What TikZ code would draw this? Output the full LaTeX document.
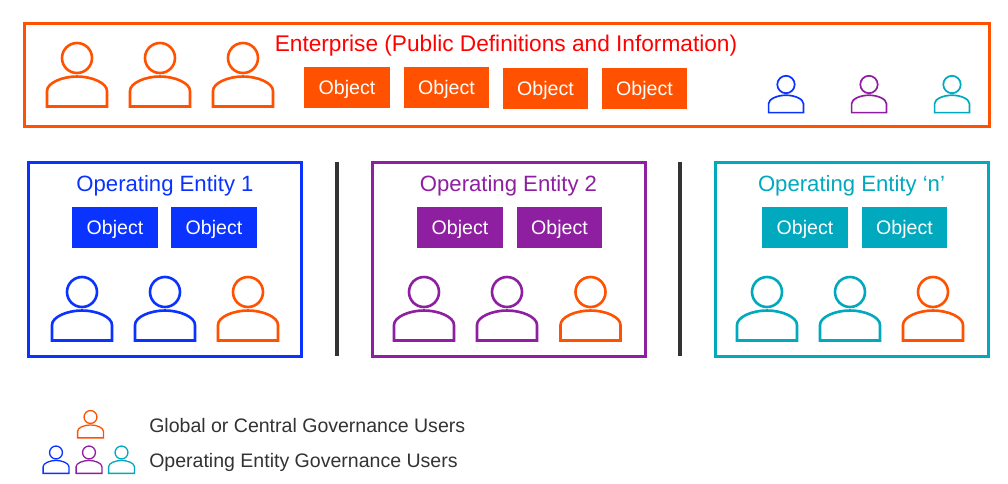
\documentclass[tikz,border=0pt]{standalone}
\usepackage{fontspec}
\setmainfont{Liberation Sans}
\definecolor{org}{HTML}{FF5100}
\definecolor{blu}{HTML}{0A33FF}
\definecolor{pur}{HTML}{8E1FA0}
\definecolor{tea}{HTML}{00A9BD}
\definecolor{dar}{HTML}{333333}
\newcommand{\px}{0.75pt}
\tikzset{
  frame/.style={draw=#1,line width=3*\px,fill=white},
  obj/.style={fill=#1,text=white,minimum width=85.5*\px,minimum height=41*\px,inner sep=0pt,text height=10pt,text depth=0pt,font=\fontsize{14.7pt}{16pt}\selectfont},
  title/.style={text=#1,inner sep=0pt,text height=11pt,text depth=0pt,font=\fontsize{16.6pt}{18pt}\selectfont},
  bigtitle/.style={text=#1,inner sep=0pt,text height=11pt,text depth=0pt,font=\fontsize{17pt}{18pt}\selectfont},
  legend/.style={text=dar,inner sep=0pt,text height=10pt,text depth=0pt,anchor=west,font=\fontsize{14.65pt}{16pt}\selectfont},
  divider/.style={dar,line width=4*\px},
  pics/person/.style n args={3}{code={
    \draw[#1,line width=#2*\px,line join=round,scale=#3] (0,0) circle (15);
    \draw[#1,line width=#2*\px,line join=miter,scale=#3]
      (-30,48.5) -- (-30,33) .. controls (-30,25) and (-15,18.5) .. (0,18.5)
      .. controls (15,18.5) and (30,25) .. (30,33) -- (30,48.5) -- cycle;
  }}
}
\begin{document}
\begin{tikzpicture}[x=\px,y=-\px]
\useasboundingbox (0,0) rectangle (1008,483);
\fill[white] (0,0) rectangle (1008,483);
\draw[frame=org] (24.5,23.5) rectangle (989,126);
\draw[frame=blu] (28.5,162.5) rectangle (301.5,356);
\draw[frame=pur] (372.5,162.5) rectangle (645.5,356);
\draw[frame=tea] (715.5,162.5) rectangle (988.5,356);
\coordinate (d1a) at (337,162); \coordinate (d1b) at (337,356);
\coordinate (d2a) at (680,162); \coordinate (d2b) at (680,356);
\draw[divider] (d1a) -- (d1b);
\draw[divider] (d2a) -- (d2b);
\node[bigtitle=red] (t0) at (506,44) {Enterprise (Public Definitions and Information)};
\node[title=blu] (t1) at (165,184.5) {Operating Entity 1};
\node[title=pur] (t2) at (508.5,184.5) {Operating Entity 2};
\node[title=tea] (t3) at (851.5,184.5) {Operating Entity ‘n’};
\node[obj=org] (o1) at (347,87.5) {Object};
\node[obj=org] (o2) at (446.5,87.5) {Object};
\node[obj=org] (o3) at (545.5,88.5) {Object};
\node[obj=org] (o4) at (644.5,88.5) {Object};
\node[obj=blu] (o5) at (115,227.5) {Object};
\node[obj=blu] (o6) at (214,227.5) {Object};
\node[obj=pur] (o7) at (460,227.5) {Object};
\node[obj=pur] (o8) at (559.5,227.5) {Object};
\node[obj=tea] (o9) at (805,227.5) {Object};
\node[obj=tea] (o10) at (904.5,227.5) {Object};
\foreach \x in {77,160,243} \pic at (\x,58) {person={org}{2.6}{1}};
\pic at (786,84.5) {person={blu}{1.7}{0.58}};
\pic at (869,84.5) {person={pur}{1.7}{0.58}};
\pic at (952,84.5) {person={tea}{1.7}{0.58}};
\foreach \x in {82,165} \pic at (\x,292) {person={blu}{2.6}{1}};
\pic at (248,292) {person={org}{2.6}{1}};
\foreach \x in {424,507} \pic at (\x,292) {person={pur}{2.6}{1}};
\pic at (590.5,292) {person={org}{2.6}{1}};
\foreach \x in {767,850} \pic at (\x,292) {person={tea}{2.6}{1}};
\pic at (933,292) {person={org}{2.6}{1}};
\pic at (90.5,417) {person={org}{1.3}{0.43}};
\pic at (56,452.5) {person={blu}{1.3}{0.43}};
\pic at (89,452.5) {person={pur}{1.3}{0.43}};
\pic at (121.5,452.5) {person={tea}{1.3}{0.43}};
\node[legend] (l1) at (149,426) {Global or Central Governance Users};
\node[legend] (l2) at (149,461) {Operating Entity Governance Users};
\end{tikzpicture}
\end{document}
